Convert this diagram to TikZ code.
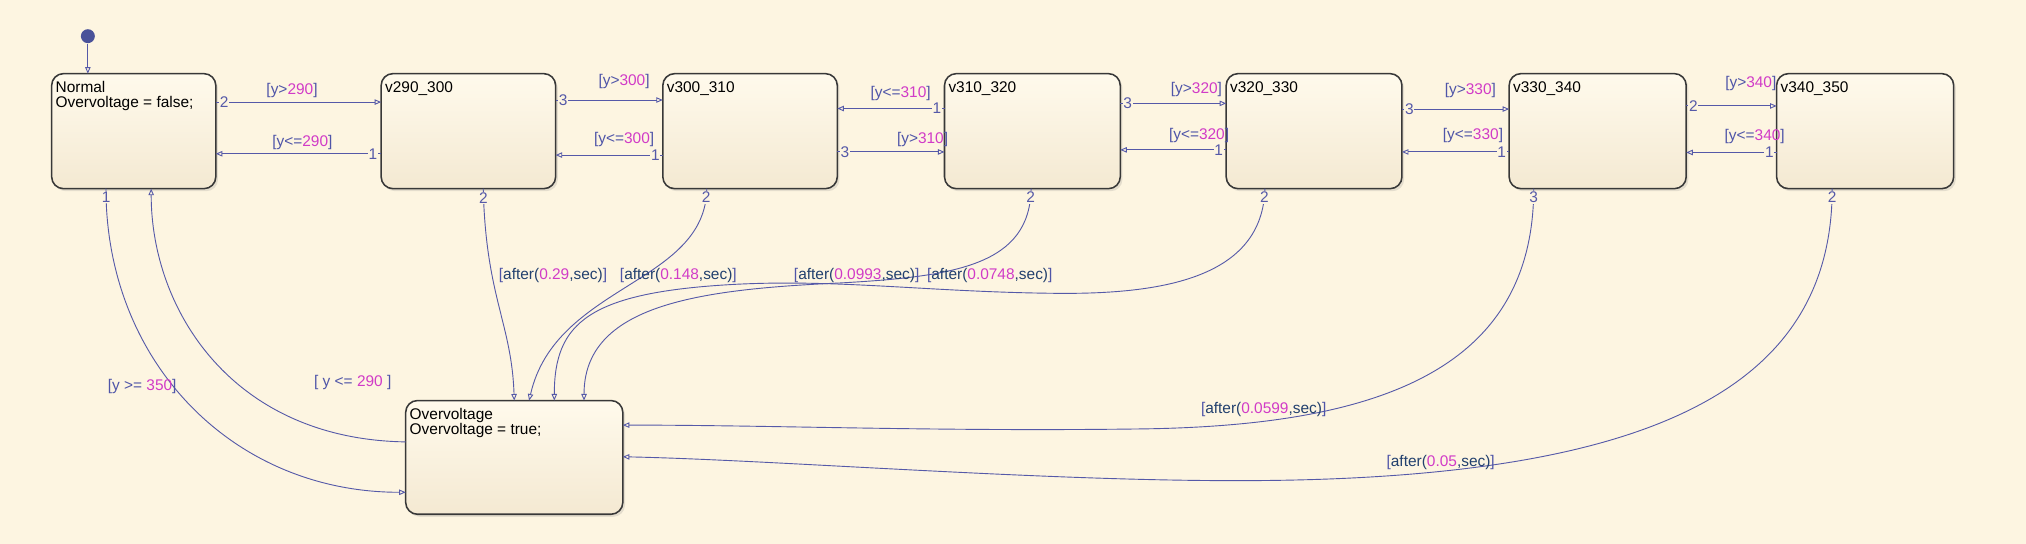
\documentclass[tikz,border=0pt]{standalone}
\usepackage{fontspec}
\setmainfont{Liberation Sans}
\usetikzlibrary{arrows.meta, shadows}

\definecolor{chartbg}{HTML}{FDF5E1}
\definecolor{trblue}{HTML}{5559A8}
\definecolor{dotblue}{HTML}{4A5299}
\definecolor{grdblue}{HTML}{4F55A8}
\definecolor{grdmag}{HTML}{D13BC7}
\definecolor{grdnavy}{HTML}{22406E}
\definecolor{statetop}{HTML}{FFFAEC}
\definecolor{statebot}{HTML}{F4E9D2}

\newcommand{\gval}[1]{\textcolor{grdmag}{#1}}
\newcommand{\aftr}[1]{[\textcolor{grdnavy}{after(}\gval{#1}\textcolor{grdnavy}{,sec)}]}

\begin{document}
\begin{tikzpicture}[x=0.025cm, y=-0.025cm, font=\fontsize{8.5}{8.3}\selectfont]
    \tikzstyle{state} = [draw=black!78, line width=0.85pt, rounded corners=6.5pt,
        top color=statetop, bottom color=statebot,
        drop shadow={shadow xshift=1.2pt, shadow yshift=-1.4pt, opacity=0.2},
        minimum height=2.225cm, inner sep=0pt, outer sep=0pt]
    \tikzstyle{stext} = [anchor=north west, align=left, inner xsep=2pt, inner ysep=4pt]
    \tikzstyle{tr}    = [draw=trblue, line width=0.5pt, -{Triangle[open, length=3.6pt, width=3pt]}]
    \tikzstyle{num}   = [text=trblue, fill=chartbg, inner sep=0.4pt]
    \tikzstyle{grd}   = [text=grdblue, inner sep=0pt]

    \fill[chartbg] (0, 0) rectangle (1568, 421);

    \node[circle, fill=dotblue, minimum size=0.27cm, inner sep=0pt] (init) at (68, 28) {};

    \node[state, minimum width=3.175cm] (normal) at ( 103.5, 101.5) {};
        \node[stext] (normaltxt) at (normal.north west) {Normal\\Overvoltage = false;};
    \node[state, minimum width=3.375cm] (v290)   at ( 362.5, 101.5) {};
        \node[stext] (v290txt) at (v290.north west) {v290\_300};
    \node[state, minimum width=3.375cm] (v300)   at ( 580.5, 101.5) {};
        \node[stext] (v300txt) at (v300.north west) {v300\_310};
    \node[state, minimum width=3.4cm]   (v310)   at ( 799.0, 101.5) {};
        \node[stext] (v310txt) at (v310.north west) {v310\_320};
    \node[state, minimum width=3.4cm]   (v320)   at (1017.0, 101.5) {};
        \node[stext] (v320txt) at (v320.north west) {v320\_330};
    \node[state, minimum width=3.425cm] (v330)   at (1236.5, 101.5) {};
        \node[stext] (v330txt) at (v330.north west) {v330\_340};
    \node[state, minimum width=3.425cm] (v340)   at (1443.5, 101.5) {};
        \node[stext] (v340txt) at (v340.north west) {v340\_350};

    \node[state, minimum width=4.2cm, minimum height=2.2cm] (over) at (398, 354) {};
        \node[stext] (overtxt) at (over.north west) {Overvoltage\\Overvoltage = true;};

    \draw[tr] (init) -- (init |- normal.north);

    \draw[tr] (normal.east |- 0,79)    -- node[num, pos=.05] (n1)  {2} (v290.west |- 0,79);
    \draw[tr] (v290.west |- 0,119)     -- node[num, pos=.05] (n2)  {1} (normal.east |- 0,119);
    \draw[tr] (v290.east |- 0,77.4)    -- node[num, pos=.07] (n3)  {3} (v300.west |- 0,77.4);
    \draw[tr] (v300.west |- 0,120)     -- node[num, pos=.07] (n4)  {1} (v290.east |- 0,120);
    \draw[tr] (v310.west |- 0,84)      -- node[num, pos=.07] (n5)  {1} (v300.east |- 0,84);
    \draw[tr] (v300.east |- 0,117.6)   -- node[num, pos=.07] (n6)  {3} (v310.west |- 0,117.6);
    \draw[tr] (v310.east |- 0,80)      -- node[num, pos=.07] (n7)  {3} (v320.west |- 0,80);
    \draw[tr] (v320.west |- 0,116)     -- node[num, pos=.07] (n8)  {1} (v310.east |- 0,116);
    \draw[tr] (v320.east |- 0,84.4)    -- node[num, pos=.07] (n9)  {3} (v330.west |- 0,84.4);
    \draw[tr] (v330.west |- 0,117.6)   -- node[num, pos=.07] (n10) {1} (v320.east |- 0,117.6);
    \draw[tr] (v330.east |- 0,82)      -- node[num, pos=.08] (n11) {2} (v340.west |- 0,82);
    \draw[tr] (v340.west |- 0,118)     -- node[num, pos=.08] (n12) {1} (v330.east |- 0,118);

    \node[grd] (g1)  at ( 226,  70.0) {[y>\gval{290}]};
    \node[grd] (g2)  at ( 234, 110.0) {[y<=\gval{290}]};
    \node[grd] (g3)  at ( 483,  63.0) {[y>\gval{300}]};
    \node[grd] (g4)  at ( 483, 108.0) {[y<=\gval{300}]};
    \node[grd] (g5)  at ( 697,  72.0) {[y<=\gval{310}]};
    \node[grd] (g6)  at ( 714, 108.0) {[y>\gval{310}]};
    \node[grd] (g7)  at ( 926,  69.0) {[y>\gval{320}]};
    \node[grd] (g8)  at ( 928, 105.0) {[y<=\gval{320}]};
    \node[grd] (g9)  at (1138,  70.0) {[y>\gval{330}]};
    \node[grd] (g10) at (1140, 105.0) {[y<=\gval{330}]};
    \node[grd] (g11) at (1355,  64.5) {[y>\gval{340}]};
    \node[grd] (g12) at (1358, 106.0) {[y<=\gval{340}]};

    \draw[tr] (v290.south -| 374,0) .. controls (376, 230) and (396, 250) .. node[num, pos=.03] (n13) {2} (over.north -| 398,0);
    \draw[tr] (v300.south -| 547,0) .. controls (546, 220) and (430, 220) .. node[num, pos=.032] (n14) {2} (over.north -| 409.5,0);
    \draw[tr] (v310.south -| 798,0) .. controls (797, 205) and (740, 214) .. node[num, pos=.04] (n15) {2} (650, 219)
        .. controls (540, 224) and (452, 236) .. (over.north -| 452,0);
    \draw[tr] (v320.south -| 979,0) .. controls (977, 215) and (900, 228) .. node[num, pos=.034] (n16) {2} (816, 227)
        .. controls (720, 226) and (650, 216) .. (570, 220)
        .. controls (455, 226) and (429, 250) .. (over.north -| 429,0);
    \draw[tr] (v330.south -| 1187,0) .. controls (1187, 290) and (1060, 330) .. node[num, pos=.016] (n17) {3} (880, 332)
        .. controls (720, 334) and (600, 329) .. (over.east |- 0,329);
    \draw[tr] (v340.south -| 1418,0) .. controls (1418, 300) and (1280, 372) .. node[num, pos=.015] (n18) {2} (957, 372)
        .. controls (800, 372) and (600, 356) .. (over.east |- 0,353.5);
    \draw[tr] (normal.south -| 82,0) .. controls (82, 280) and (180, 381) .. node[num, pos=.017] (n19) {1} (over.west |- 0,381);
    \draw[tr] (over.west |- 0,342) .. controls (180, 340) and (117, 240) .. (normal.south -| 117,0);

    \node[grd] (g13) at ( 428, 213.5) {\aftr{0.29}};
    \node[grd] (g14) at ( 525, 213.5) {\aftr{0.148}};
    \node[grd] (g15) at ( 663, 213.5) {\aftr{0.0993}};
    \node[grd] (g16) at ( 766, 213.5) {\aftr{0.0748}};
    \node[grd] (g17) at ( 978, 316.6) {\aftr{0.0599}};
    \node[grd] (g18) at (1115, 358.0) {\aftr{0.05}};
    \node[grd] (g19) at ( 110, 299.0) {[y >= \gval{350}]};
    \node[grd] (g20) at ( 273, 296.0) {[ y <= \gval{290} ]};

\end{tikzpicture}
\end{document}
